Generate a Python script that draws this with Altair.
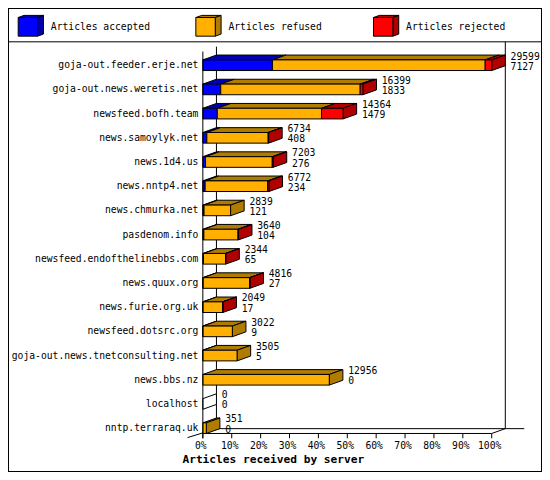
import altair as alt
import pandas as pd

# ---------------- data ----------------
servers = [
    "goja-out.feeder.erje.net", "goja-out.news.weretis.net", "newsfeed.bofh.team",
    "news.samoylyk.net", "news.1d4.us", "news.nntp4.net", "news.chmurka.net",
    "pasdenom.info", "newsfeed.endofthelinebbs.com", "news.quux.org",
    "news.furie.org.uk", "newsfeed.dotsrc.org", "goja-out.news.tnetconsulting.net",
    "news.bbs.nz", "localhost", "nntp.terraraq.uk",
]
totals = [29599, 16399, 14364, 6734, 7203, 6772, 2839, 3640, 2344, 4816, 2049, 3022, 3505, 12956, 0, 351]
accepted = [7127, 1833, 1479, 408, 276, 234, 121, 104, 65, 27, 17, 9, 5, 0, 0, 0]
refused = [21802, 14286, 10685, 6286, 6837, 6418, 2718, 3506, 2259, 4774, 2022, 3013, 3500, 12956, 0, 351]
rejected = [670, 280, 2200, 40, 90, 120, 0, 30, 20, 15, 10, 0, 0, 0, 0, 0]

series = ["Articles accepted", "Articles refused", "Articles rejected"]
front_colors = ["#0000ff", "#ffb000", "#ff0000"]
dark_colors = ["#0000b0", "#b07c00", "#b00000"]
ticks = [0, 10, 20, 30, 40, 50, 60, 70, 80, 90, 100]
x_title = "Articles received by server"

# ---------------- layout / style constants ----------------
FONT = "DejaVu Sans Mono"
FS = 9.7
W, HT = 534, 464
XDOM = [-67.46, 117.41]      # % units across the whole canvas
YDOM = [-2.365, 16.812]      # row units across the whole canvas
DX = 4.706                   # 3D depth in % units
DY = 0.2                     # 3D depth in row units
H = 0.22                     # half bar height in row units
FLOOR = 15 + H
TOP_FRONT = -0.567
SEP = -0.967

xs = alt.Scale(domain=XDOM, nice=False, zero=False)
ys = alt.Scale(domain=YDOM, nice=False, zero=False, reverse=True)


def X(f):
    return alt.X(f, type="quantitative", scale=xs, axis=None, stack=None)


def X2(f):
    return alt.X2(f)


def Y(f):
    return alt.Y(f, type="quantitative", scale=ys, axis=None, stack=None)


def Y2(f):
    return alt.Y2(f)


face_domain = series + [s + " dark" for s in series] + ["empty"]
face_range = front_colors + dark_colors + ["#ffffff"]
fill = alt.Fill("face:N", scale=alt.Scale(domain=face_domain, range=face_range), legend=None)

max_total = max(totals)

front, top, side, labels = [], [], [], []
for i, name in enumerate(servers):
    vals = [accepted[i], refused[i], rejected[i]]
    start = 0
    last = None
    for k, v in enumerate(vals):
        if v <= 0:
            continue
        x0 = start / max_total * 100
        x1 = (start + v) / max_total * 100
        front.append(dict(x0=x0, x1=x1, y0=i - H, y1=i + H, face=series[k]))
        g = f"{i}-{k}"
        top.append(dict(g=g, y=i - H, xa=x0, xb=x1, face=series[k] + " dark"))
        top.append(dict(g=g, y=i - H - DY, xa=x0 + DX, xb=x1 + DX, face=series[k] + " dark"))
        start += v
        last = k
    xe = start / max_total * 100
    face = series[last] + " dark" if last is not None else "empty"
    side.append(dict(g=str(i), x=xe, ya=i - H, yb=i + H, face=face))
    side.append(dict(g=str(i), x=xe + DX, ya=i - H - DY, yb=i + H - DY, face=face))
    labels.append(dict(row=i, name=name, xe=xe + DX, total=str(totals[i]), acc=str(accepted[i])))

front_df = pd.DataFrame(front)
top_df = pd.DataFrame(top)
side_df = pd.DataFrame(side)
lab_df = pd.DataFrame(labels)

# legend cubes
LDX, LDY, LW, LH = 2.02, 0.088, 6.72, 0.3855
LY = -1.586
leg_front, leg_top, leg_side, leg_txt = [], [], [], []
for k, s in enumerate(series):
    x0 = -63.93 + 61.5 * k
    x1 = x0 + LW
    leg_front.append(dict(x0=x0, x1=x1, y0=LY - LH, y1=LY + LH, face=s))
    leg_top.append(dict(g=s, y=LY - LH, xa=x0, xb=x1, face=s + " dark"))
    leg_top.append(dict(g=s, y=LY - LH - LDY, xa=x0 + LDX, xb=x1 + LDX, face=s + " dark"))
    leg_side.append(dict(g=s, x=x1, ya=LY - LH, yb=LY + LH, face=s + " dark"))
    leg_side.append(dict(g=s, x=x1 + LDX, ya=LY - LH - LDY, yb=LY + LH - LDY, face=s + " dark"))
    leg_txt.append(dict(x=x1, y=LY, text=s))

# frame lines
lines = pd.DataFrame([
    dict(x=XDOM[0], x2=XDOM[1], y=SEP, y2=SEP),                      # legend separator
    dict(x=DX, x2=DX, y=TOP_FRONT - DY, y2=FLOOR - DY),              # back left wall
    dict(x=100 + DX, x2=100 + DX, y=SEP, y2=FLOOR - DY),             # back right wall
    dict(x=DX, x2=111.26, y=FLOOR - DY, y2=FLOOR - DY),              # back floor line
    dict(x=-5.3, x2=DX, y=FLOOR + 0.17, y2=FLOOR - DY),              # left floor edge
    dict(x=100, x2=100 + DX, y=FLOOR, y2=FLOOR - DY),                # right floor edge
])
front_lines = pd.DataFrame([
    dict(x=0, x2=0, y=TOP_FRONT, y2=FLOOR + 0.2),                    # front left axis
    dict(x=0, x2=100, y=FLOOR, y2=FLOOR),                            # front bottom axis
])
tick_df = pd.DataFrame([dict(t=t, y=FLOOR, y2=FLOOR + 0.2, lab=f"{t}%", ly=FLOOR + 0.52) for t in ticks])
title_df = pd.DataFrame([dict(x=24.4, y=FLOOR + 1.08, text=x_title)])

# ---------------- layers ----------------
back = alt.Chart(lines).mark_rule(color="black", strokeWidth=1).encode(
    x=X("x"), x2=X2("x2"), y=Y("y"), y2=Y2("y2"))

tops = alt.Chart(top_df).mark_area(orient="horizontal", stroke="black", strokeWidth=1).encode(
    y=Y("y"), x=X("xa"), x2=X2("xb"), detail="g:N", fill=fill)

sides = alt.Chart(side_df).mark_area(orient="vertical", stroke="black", strokeWidth=1).encode(
    x=X("x"), y=Y("ya"), y2=Y2("yb"), detail="g:N", fill=fill)

fronts = alt.Chart(front_df).mark_rect(stroke="black", strokeWidth=1).encode(
    x=X("x0"), x2=X2("x1"), y=Y("y0"), y2=Y2("y1"), fill=fill)

axes = alt.Chart(front_lines).mark_rule(color="black", strokeWidth=1).encode(
    x=X("x"), x2=X2("x2"), y=Y("y"), y2=Y2("y2"))

tick_rules = alt.Chart(tick_df).mark_rule(color="black", strokeWidth=1).encode(
    x=X("t"), y=Y("y"), y2=Y2("y2"))

tick_text = alt.Chart(tick_df).mark_text(font=FONT, fontSize=FS, baseline="middle", align="center", dx=-2).encode(
    x=X("t"), y=Y("ly"), text="lab:N")

row_text = alt.Chart(lab_df).mark_text(font=FONT, fontSize=FS, baseline="middle", align="right", dx=-4.5).encode(
    x=alt.datum(0, type="quantitative", scale=xs, axis=None), y=Y("row"), text="name:N")

tot_text = alt.Chart(lab_df).mark_text(font=FONT, fontSize=FS, baseline="middle", align="left", dx=5.3, dy=-8.7).encode(
    x=X("xe"), y=Y("row"), text="total:N")

acc_text = alt.Chart(lab_df).mark_text(font=FONT, fontSize=FS, baseline="middle", align="left", dx=5.3, dy=1.5).encode(
    x=X("xe"), y=Y("row"), text="acc:N")

title_text = alt.Chart(title_df).mark_text(font=FONT, fontSize=11.2, fontWeight="bold", baseline="middle", align="center").encode(
    x=X("x"), y=Y("y"), text="text:N")

lt = alt.Chart(pd.DataFrame(leg_top)).mark_area(orient="horizontal", stroke="black", strokeWidth=1).encode(
    y=Y("y"), x=X("xa"), x2=X2("xb"), detail="g:N", fill=fill)
ls = alt.Chart(pd.DataFrame(leg_side)).mark_area(orient="vertical", stroke="black", strokeWidth=1).encode(
    x=X("x"), y=Y("ya"), y2=Y2("yb"), detail="g:N", fill=fill)
lf = alt.Chart(pd.DataFrame(leg_front)).mark_rect(stroke="black", strokeWidth=1).encode(
    x=X("x0"), x2=X2("x1"), y=Y("y0"), y2=Y2("y1"), fill=fill)
ltx = alt.Chart(pd.DataFrame(leg_txt)).mark_text(font=FONT, fontSize=FS, baseline="middle", align="left", dx=13.2).encode(
    x=X("x"), y=Y("y"), text="text:N")

chart = alt.layer(
    back, tops, sides, fronts, axes, tick_rules, tick_text, row_text, tot_text, acc_text,
    title_text, lt, ls, lf, ltx,
).properties(
    width=W, height=HT, padding=0, autosize=alt.AutoSizeParams(type="none"), background="white",
).configure_view(stroke="black", strokeWidth=2)

chart.save("out.html", embed_options={"renderer": "svg", "actions": False})
